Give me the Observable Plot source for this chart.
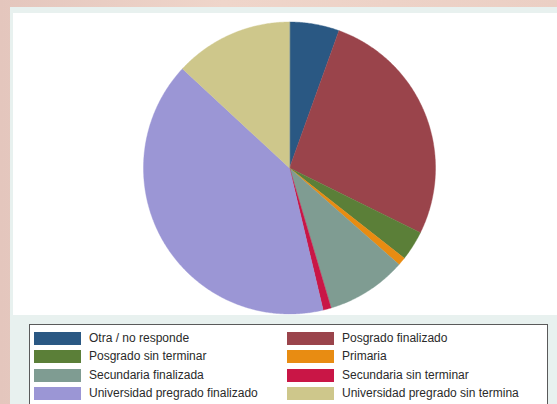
<!DOCTYPE html>
<html>
<head>
<meta charset="utf-8">
<script src="https://cdn.jsdelivr.net/npm/d3@7"></script>
<script src="https://cdn.jsdelivr.net/npm/@observablehq/plot@0.6"></script>
<style>
  html, body { margin: 0; padding: 0; }
  body {
    width: 557px; height: 404px; overflow: hidden; position: relative;
    background: linear-gradient(90deg, #e4c6bd 0%, #efd5ca 40%, #ebcfc4 100%);
    font-family: "Liberation Sans", Arial, sans-serif;
  }
  #panel {
    position: absolute; left: 10px; top: 7px; width: 547px; height: 397px;
    background: #e8f1ef;
  }
  #plot {
    position: absolute; left: 13px; top: 13px; width: 544px; height: 302px;
    background: #ffffff;
  }
  #legend {
    position: absolute; left: 29px; top: 324px; width: 519px; height: 90px;
    background: #ffffff; border: 1px solid #5a5a5a; box-sizing: border-box;
  }
  .item { position: absolute; height: 14px; font-size: 12px; color: #2a2a2a; white-space: nowrap; }
  .sw { position: absolute; left: 0; top: 0; width: 47px; height: 13px; }
  .lab { position: absolute; left: 55px; top: -1px; line-height: 14px; }
</style>
</head>
<body>
<div id="panel"></div>
<div id="plot"></div>
<div id="legend"></div>
<script>
const categories = [
  "Otra / no responde",
  "Posgrado finalizado",
  "Posgrado sin terminar",
  "Primaria",
  "Secundaria finalizada",
  "Secundaria sin terminar",
  "Universidad pregrado finalizado",
  "Universidad pregrado sin termina"
];
const values = [5.5, 26.8, 3.3, 0.9, 8.9, 0.9, 40.6, 13.1];
const colors = ["#2a5883", "#9a444b", "#5b7f38", "#e88c12", "#7f9c92", "#c91646", "#9b96d5", "#cec78b"];

const arcs = d3.pie().sort(null).value(d => d)(values);
const slices = arcs.map((a, i) => {
  const n = Math.max(4, Math.ceil((a.endAngle - a.startAngle) / (Math.PI / 360)));
  const ring = [[0, 0]];
  for (let k = 0; k <= n; ++k) {
    const t = a.startAngle + (a.endAngle - a.startAngle) * k / n;
    ring.push([Math.sin(t), Math.cos(t)]);
  }
  ring.push([0, 0]);
  return {type: "Feature", properties: {name: categories[i], value: values[i]},
          geometry: {type: "Polygon", coordinates: [ring]}};
});

const chart = Plot.plot({
  width: 544,
  height: 302,
  marginLeft: 130,
  marginRight: 122,
  marginTop: 8.5,
  marginBottom: 1.5,
  style: {background: "transparent"},
  projection: {type: "reflect-y", domain: {type: "MultiPoint", coordinates: [[-1, -1], [1, 1]]}},
  color: {domain: categories, range: colors},
  marks: [
    Plot.geo(slices, {fill: d => d.properties.name, stroke: d => d.properties.name, strokeWidth: 0.4})
  ]
});
document.getElementById("plot").appendChild(chart);

const color = chart.scale("color");
const legend = document.getElementById("legend");
categories.forEach((c, i) => {
  const col = i % 2, row = Math.floor(i / 2);
  const item = document.createElement("div");
  item.className = "item";
  item.style.left = (col === 0 ? 4 : 257) + "px";
  item.style.top = (7 + row * 18.4) + "px";
  const sw = document.createElement("div");
  sw.className = "sw";
  sw.style.background = color.apply(c);
  const lab = document.createElement("div");
  lab.className = "lab";
  lab.textContent = c;
  item.appendChild(sw); item.appendChild(lab);
  legend.appendChild(item);
});
</script>
</body>
</html>
